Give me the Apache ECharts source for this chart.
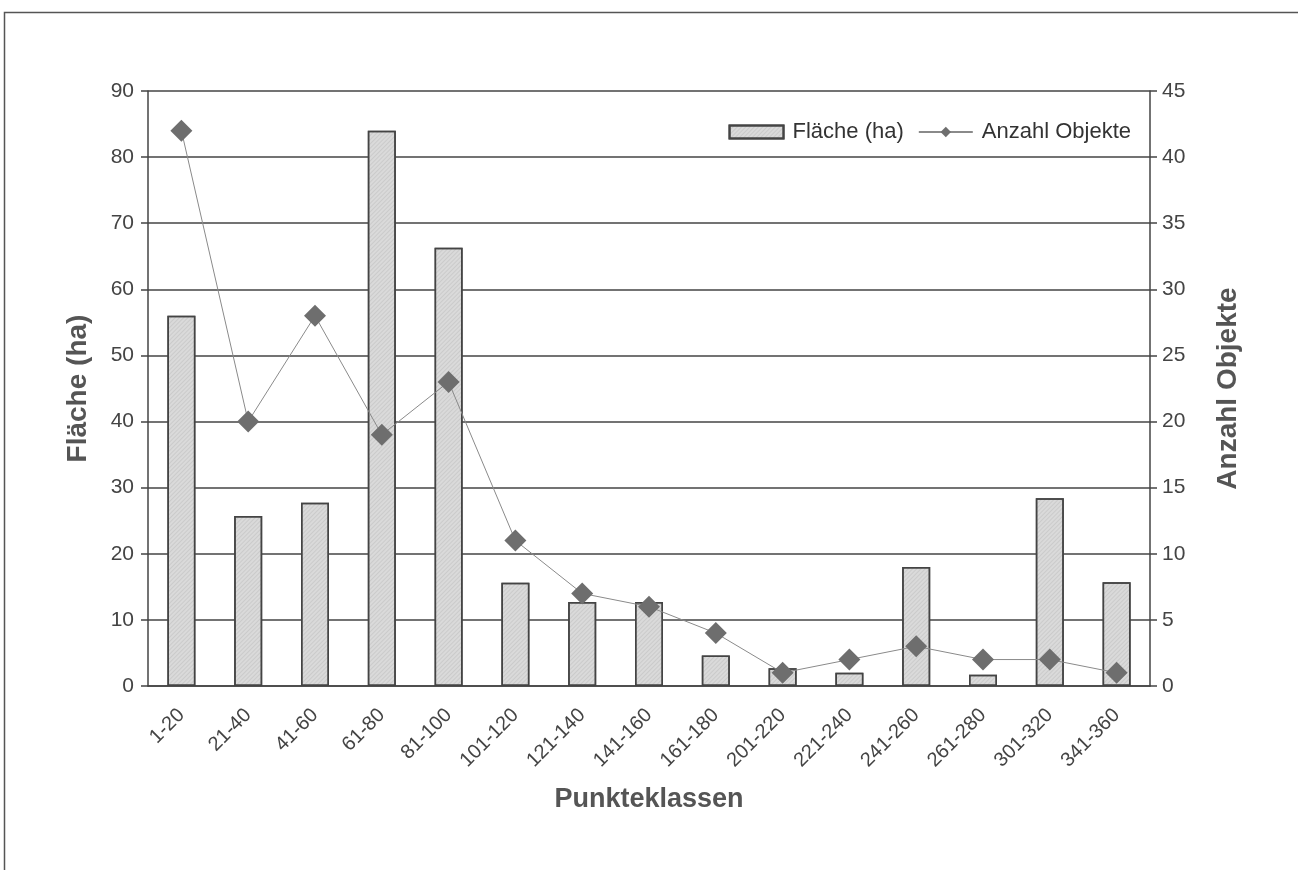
<!DOCTYPE html>
<html><head><meta charset="utf-8">
<script src="https://cdn.jsdelivr.net/npm/echarts@6/dist/echarts.min.js"></script>
<style>html,body{margin:0;padding:0;background:#fff}#c{width:1298px;height:870px}</style>
</head><body><div id="c"></div>
<script>
const categories = ['1-20','21-40','41-60','61-80','81-100','101-120','121-140','141-160','161-180','201-220','221-240','241-260','261-280','301-320','341-360'];
const flaeche = [56, 25.7, 27.7, 84, 66.3, 15.6, 12.7, 12.7, 4.6, 2.7, 2.0, 18.0, 1.7, 28.4, 15.7];
const anzahl = [42, 20, 28, 19, 23, 11, 7, 6, 4, 1, 2, 3, 2, 2, 1];
const leftTicks = {min: 0, max: 90, interval: 10};
const rightTicks = {min: 0, max: 45, interval: 5};
const xAxisTitle = 'Punkteklassen';

const chart = echarts.init(document.getElementById('c'));
const font = 'Liberation Sans, Arial, sans-serif';
const axisColor = '#444';
chart.setOption({
  animation: false,
  textStyle: {fontFamily: font},
  title: {
    text: xAxisTitle, left: 'center', top: 786, padding: 0,
    textStyle: {fontSize: 27, fontWeight: 'bold', color: '#555', fontFamily: font}
  },
  graphic: [{type: 'rect', shape: {x: 4.5, y: 12.5, width: 1300, height: 900}, style: {fill: 'none', stroke: '#555', lineWidth: 1.5}}],
  legend: {
    top: 116, right: 162, itemWidth: 54, itemHeight: 13, itemGap: 14,
    textStyle: {fontSize: 22, color: '#333', fontFamily: font, padding: [0, 0, 0, 4]},
    data: [{name: 'Fläche (ha)', icon: 'rect'}, {name: 'Anzahl Objekte'}]
  },
  grid: {left: 148, right: 148, top: 91, bottom: 184},
  xAxis: [{
    type: 'category', data: categories, position: 'bottom',
    axisLine: {lineStyle: {color: axisColor, width: 1.5}},
    axisTick: {length: 7, lineStyle: {color: axisColor, width: 1.5}},
    axisLabel: {rotate: 45, fontSize: 20, color: '#444', margin: 26, interval: 0}
  }, {
    type: 'category', data: categories, position: 'bottom',
    axisLine: {show: false},
    axisTick: {inside: true, length: 7, lineStyle: {color: axisColor, width: 1.5}},
    axisLabel: {show: false}
  }],
  yAxis: [{
    type: 'value', min: leftTicks.min, max: leftTicks.max, interval: leftTicks.interval,
    name: 'Fläche (ha)', nameLocation: 'middle', nameGap: 56, nameRotate: 90,
    nameTextStyle: {fontSize: 28, fontWeight: 'bold', color: '#555', fontFamily: font},
    axisLine: {show: true, lineStyle: {color: axisColor, width: 1.5}},
    axisTick: {show: true, length: 7, lineStyle: {color: axisColor, width: 1.5}},
    axisLabel: {fontSize: 21, color: '#444', margin: 14},
    splitLine: {lineStyle: {color: axisColor, width: 1.5}}
  }, {
    type: 'value', min: rightTicks.min, max: rightTicks.max, interval: rightTicks.interval,
    name: 'Anzahl Objekte', nameLocation: 'middle', nameGap: 64, nameRotate: 90,
    nameTextStyle: {fontSize: 28, fontWeight: 'bold', color: '#555', fontFamily: font},
    axisLine: {show: true, lineStyle: {color: axisColor, width: 1.5}},
    axisTick: {show: true, length: 7, lineStyle: {color: axisColor, width: 1.5}},
    axisLabel: {fontSize: 21, color: '#444', margin: 12},
    splitLine: {show: false}
  }],
  series: [{
    name: 'Fläche (ha)', type: 'bar', data: flaeche, yAxisIndex: 0, xAxisIndex: 0,
    barWidth: 28,
    itemStyle: {
      color: '#dadada', borderColor: '#444', borderWidth: 1.5,
      decal: {symbol: 'rect', symbolSize: 1, dashArrayX: [1, 0], dashArrayY: [1, 2], rotation: -Math.PI / 4, color: 'rgba(0,0,0,0.07)'}
    }
  }, {
    name: 'Anzahl Objekte', type: 'line', data: anzahl, yAxisIndex: 1, xAxisIndex: 0,
    symbol: 'diamond', symbolSize: 22,
    lineStyle: {color: '#8a8a8a', width: 1},
    itemStyle: {color: '#6e6e6e'}
  }]
});
</script></body></html>
